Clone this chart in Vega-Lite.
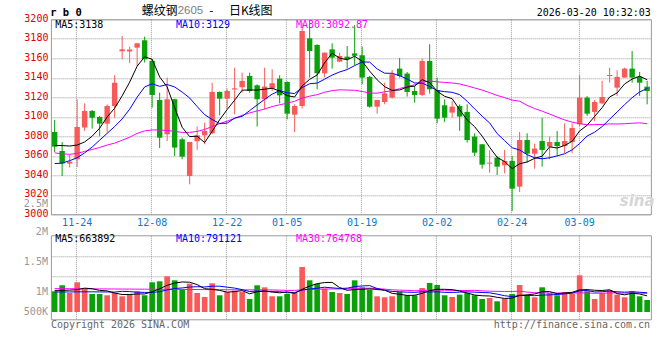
{
  "$schema": "https://vega.github.io/schema/vega-lite/v6.json",
  "autosize": {"type": "pad"},
  "padding": {"left": 22.9, "top": 3.3, "right": 9.5, "bottom": 31.6},
  "background": "white",
  "spacing": 21,
  "bounds": "flush",
  "resolve": {"scale": {"x": "independent", "y": "independent"}, "axis": {"x": "independent", "y": "independent"}},
  "config": {"view": {"stroke": "#999999", "strokeWidth": 1, "fill": "white"}},
  "datasets": {
    "k": [
      {"d":"11-19","o":3084.4,"h":3096.8,"l":3063.9,"c":3069.4,"m5":3070.5,"m10":3052,"m30":3063,"v":852000,"v5":890000,"v10":825000,"v30":960000},
      {"d":"11-20","o":3065,"h":3074.2,"l":3039.3,"c":3052,"m5":3070.5,"m10":3052.5,"m30":3062,"v":1099000,"v5":890000,"v10":825000,"v30":960000},
      {"d":"11-21","o":3052,"h":3061,"l":3048,"c":3054,"m5":3070,"m10":3055,"m30":3061.5,"v":783000,"v5":900000,"v10":825000,"v30":958000},
      {"d":"11-24","o":3056.4,"h":3117.9,"l":3048.5,"c":3089.6,"m5":3071,"m10":3058,"m30":3062.5,"v":1222000,"v5":920000,"v10":830000,"v30":956000},
      {"d":"11-25","o":3088.9,"h":3113.8,"l":3085.5,"c":3106,"m5":3074.2,"m10":3063,"m30":3064.5,"v":948000,"v5":981000,"v10":830000,"v30":954000},
      {"d":"11-26","o":3106,"h":3107,"l":3087.9,"c":3099.1,"m5":3080.1,"m10":3069,"m30":3066.5,"v":742000,"v5":958000,"v10":830000,"v30":952000},
      {"d":"11-27","o":3099.8,"h":3100.9,"l":3080,"c":3093,"m5":3088.3,"m10":3076,"m30":3068.5,"v":742000,"v5":888000,"v10":825000,"v30":950000},
      {"d":"11-28","o":3093,"h":3112.8,"l":3083.8,"c":3111.1,"m5":3099.8,"m10":3083,"m30":3071,"v":688000,"v5":868000,"v10":825000,"v30":948000},
      {"d":"12-01","o":3111.1,"h":3142.6,"l":3099.1,"c":3135,"m5":3108.8,"m10":3090,"m30":3073,"v":783000,"v5":780000,"v10":820000,"v30":946000},
      {"d":"12-02","o":3167.2,"h":3182.9,"l":3159,"c":3169.2,"m5":3121.5,"m10":3097.8,"m30":3076,"v":646000,"v5":720000,"v10":850000,"v30":944000},
      {"d":"12-03","o":3167,"h":3172,"l":3155,"c":3169,"m5":3135.5,"m10":3107.8,"m30":3079,"v":742000,"v5":720000,"v10":839000,"v30":942000},
      {"d":"12-04","o":3170.9,"h":3175.4,"l":3152.1,"c":3175.4,"m5":3151.9,"m10":3120.1,"m30":3083,"v":852000,"v5":742000,"v10":815000,"v30":940000},
      {"d":"12-05","o":3178.5,"h":3182.2,"l":3155.6,"c":3159,"m5":3161.5,"m10":3130.6,"m30":3085.5,"v":688000,"v5":742000,"v10":806000,"v30":938000},
      {"d":"12-08","o":3157.3,"h":3159,"l":3109.4,"c":3122.4,"m5":3159,"m10":3133.9,"m30":3086.5,"v":1222000,"v5":830000,"v10":806000,"v30":936000},
      {"d":"12-09","o":3117.3,"h":3124.8,"l":3068,"c":3078.6,"m5":3140.9,"m10":3131.2,"m30":3086.5,"v":1263000,"v5":953000,"v10":836000,"v30":934000},
      {"d":"12-10","o":3082,"h":3140.2,"l":3075,"c":3118,"m5":3130.7,"m10":3133.1,"m30":3086,"v":1469000,"v5":1099000,"v10":909000,"v30":932000},
      {"d":"12-11","o":3118,"h":3118.5,"l":3059.8,"c":3068.4,"m5":3109.3,"m10":3130.6,"m30":3085,"v":1304000,"v5":1189000,"v10":966000,"v30":930000},
      {"d":"12-12","o":3076.9,"h":3078.6,"l":3056.4,"c":3059.1,"m5":3089.3,"m10":3125.4,"m30":3084,"v":921000,"v5":1236000,"v10":989000,"v30":928000},
      {"d":"12-15","o":3039.3,"h":3074.2,"l":3030.8,"c":3074.2,"m5":3079.7,"m10":3119.3,"m30":3084,"v":1167000,"v5":1225000,"v10":1027000,"v30":926000},
      {"d":"12-16","o":3075,"h":3090,"l":3066,"c":3081,"m5":3080.1,"m10":3110.5,"m30":3085,"v":783000,"v5":1128000,"v10":1041000,"v30":924000},
      {"d":"12-17","o":3081,"h":3094,"l":3071.8,"c":3085.5,"m5":3073.6,"m10":3102.2,"m30":3087,"v":619000,"v5":959000,"v10":1029000,"v30":922000},
      {"d":"12-18","o":3083.1,"h":3135,"l":3082,"c":3125.5,"m5":3085.1,"m10":3097.2,"m30":3090,"v":1181000,"v5":934000,"v10":1062000,"v30":920000},
      {"d":"12-19","o":3125.5,"h":3126,"l":3101.5,"c":3118.6,"m5":3097,"m10":3093.1,"m30":3093,"v":688000,"v5":888000,"v10":1062000,"v30":918000},
      {"d":"12-22","o":3118.6,"h":3128.9,"l":3108.4,"c":3126.5,"m5":3107.4,"m10":3093.5,"m30":3095.5,"v":824000,"v5":819000,"v10":1022000,"v30":916000},
      {"d":"12-23","o":3128,"h":3150.4,"l":3102.6,"c":3129.2,"m5":3117.1,"m10":3098.6,"m30":3098.5,"v":879000,"v5":838000,"v10":983000,"v30":914000},
      {"d":"12-24","o":3130.3,"h":3145.3,"l":3124.8,"c":3136.8,"m5":3127.3,"m10":3100.5,"m30":3101.5,"v":824000,"v5":879000,"v10":919000,"v30":912000},
      {"d":"12-25","o":3141.9,"h":3145.3,"l":3124.8,"c":3126.5,"m5":3127.5,"m10":3106.3,"m30":3104,"v":537000,"v5":750000,"v10":842000,"v30":911000},
      {"d":"12-26","o":3132.3,"h":3133.3,"l":3090,"c":3118,"m5":3127.4,"m10":3112.2,"m30":3106,"v":1099000,"v5":833000,"v10":860000,"v30":910000},
      {"d":"12-29","o":3118,"h":3150.4,"l":3107.7,"c":3131,"m5":3128.3,"m10":3117.9,"m30":3108,"v":1016000,"v5":871000,"v10":845000,"v30":909000},
      {"d":"12-30","o":3128.9,"h":3148.7,"l":3126.5,"c":3134.4,"m5":3129.3,"m10":3123.2,"m30":3110.5,"v":646000,"v5":824000,"v10":832000,"v30":908000},
      {"d":"12-31","o":3139.1,"h":3142.6,"l":3113.8,"c":3122,"m5":3126.4,"m10":3126.9,"m30":3112.3,"v":646000,"v5":789000,"v10":834000,"v30":900000},
      {"d":"01-05","o":3135.7,"h":3136.4,"l":3097.4,"c":3103.2,"m5":3121.7,"m10":3124.6,"m30":3114,"v":742000,"v5":830000,"v10":790000,"v30":889000},
      {"d":"01-06","o":3102.2,"h":3112.8,"l":3084.4,"c":3111.1,"m5":3120.3,"m10":3123.9,"m30":3115.9,"v":783000,"v5":767000,"v10":800000,"v30":889000},
      {"d":"01-07","o":3111.1,"h":3196.6,"l":3108.4,"c":3188,"m5":3131.7,"m10":3130,"m30":3119.2,"v":1853000,"v5":934000,"v10":902000,"v30":910000},
      {"d":"01-08","o":3180.5,"h":3198.3,"l":3140.2,"c":3167.5,"m5":3138.4,"m10":3133.9,"m30":3121.2,"v":1304000,"v5":1066000,"v10":945000,"v30":922000},
      {"d":"01-09","o":3173.7,"h":3174.4,"l":3128.2,"c":3144.6,"m5":3142.9,"m10":3134.6,"m30":3122.7,"v":1154000,"v5":1167000,"v10":978000,"v30":935000},
      {"d":"01-12","o":3144.6,"h":3165.8,"l":3140.2,"c":3165.8,"m5":3155.4,"m10":3138.6,"m30":3125.2,"v":961000,"v5":1211000,"v10":1020000,"v30":943000},
      {"d":"01-13","o":3169.2,"h":3175.4,"l":3149.4,"c":3160.7,"m5":3165.3,"m10":3142.8,"m30":3126.8,"v":824000,"v5":1219000,"v10":993000,"v30":948000},
      {"d":"01-14","o":3156.6,"h":3165.8,"l":3156,"c":3162.4,"m5":3160.2,"m10":3146,"m30":3127.7,"v":783000,"v5":1006000,"v10":970000,"v30":948000},
      {"d":"01-15","o":3161.7,"h":3172.6,"l":3149.4,"c":3159,"m5":3158.5,"m10":3148.4,"m30":3127.4,"v":742000,"v5":893000,"v10":980000,"v30":951000},
      {"d":"01-16","o":3165,"h":3194,"l":3153,"c":3162.6,"m5":3162.1,"m10":3152.5,"m30":3127.2,"v":1304000,"v5":923000,"v10":1045000,"v30":969000},
      {"d":"01-19","o":3163.1,"h":3172,"l":3133.3,"c":3140.2,"m5":3157,"m10":3156.2,"m30":3126,"v":1016000,"v5":934000,"v10":1072000,"v30":975000},
      {"d":"01-20","o":3140.9,"h":3141.9,"l":3109.4,"c":3110.4,"m5":3146.9,"m10":3156.1,"m30":3124.4,"v":921000,"v5":953000,"v10":1086000,"v30":982000},
      {"d":"01-21","o":3110.4,"h":3117.3,"l":3103.2,"c":3117.3,"m5":3137.9,"m10":3149.1,"m30":3124.2,"v":646000,"v5":925000,"v10":966000,"v30":963000},
      {"d":"01-22","o":3115.2,"h":3135,"l":3112.8,"c":3124.1,"m5":3130.9,"m10":3144.7,"m30":3125.7,"v":605000,"v5":898000,"v10":895000,"v30":941000},
      {"d":"01-23","o":3119.7,"h":3148,"l":3118.6,"c":3143.6,"m5":3127.1,"m10":3144.6,"m30":3126.6,"v":646000,"v5":767000,"v10":845000,"v30":914000},
      {"d":"01-26","o":3149.4,"h":3160.3,"l":3140.2,"c":3141.9,"m5":3127.5,"m10":3142.2,"m30":3129,"v":824000,"v5":728000,"v10":832000,"v30":898000},
      {"d":"01-27","o":3144.3,"h":3146,"l":3120.7,"c":3125.5,"m5":3130.5,"m10":3138.7,"m30":3131.2,"v":688000,"v5":682000,"v10":817000,"v30":891000},
      {"d":"01-28","o":3126.5,"h":3131.6,"l":3114.5,"c":3122.4,"m5":3131.5,"m10":3134.7,"m30":3132.8,"v":688000,"v5":690000,"v10":808000,"v30":874000},
      {"d":"01-29","o":3122.4,"h":3159.7,"l":3121.4,"c":3157.3,"m5":3138.1,"m10":3134.5,"m30":3135.4,"v":989000,"v5":767000,"v10":833000,"v30":881000},
      {"d":"01-30","o":3157.3,"h":3174.4,"l":3123.8,"c":3128.2,"m5":3135.1,"m10":3131.1,"m30":3136.8,"v":1194000,"v5":876000,"v10":822000,"v30":900000},
      {"d":"02-02","o":3127.5,"h":3140.2,"l":3093.3,"c":3098.1,"m5":3126.3,"m10":3126.9,"m30":3135.9,"v":1112000,"v5":934000,"v10":832000,"v30":898000},
      {"d":"02-03","o":3111.8,"h":3117.9,"l":3094.7,"c":3099.1,"m5":3121,"m10":3125.8,"m30":3135.3,"v":688000,"v5":934000,"v10":808000,"v30":898000},
      {"d":"02-04","o":3104.3,"h":3116.2,"l":3099.1,"c":3110.4,"m5":3118.6,"m10":3125.1,"m30":3134.7,"v":619000,"v5":921000,"v10":806000,"v30":891000},
      {"d":"02-05","o":3111.1,"h":3112.8,"l":3085.5,"c":3100.2,"m5":3107.2,"m10":3122.7,"m30":3133.7,"v":715000,"v5":865000,"v10":816000,"v30":886000},
      {"d":"02-06","o":3105,"h":3112.8,"l":3073.5,"c":3076.2,"m5":3096.8,"m10":3115.9,"m30":3131.7,"v":783000,"v5":783000,"v10":830000,"v30":884000},
      {"d":"02-09","o":3079.7,"h":3083.1,"l":3059.8,"c":3063.2,"m5":3089.8,"m10":3108.1,"m30":3129.6,"v":688000,"v5":698000,"v10":816000,"v30":890000},
      {"d":"02-10","o":3071.8,"h":3072,"l":3046.8,"c":3050.9,"m5":3080.2,"m10":3100.6,"m30":3127.4,"v":537000,"v5":668000,"v10":802000,"v30":870000},
      {"d":"02-11","o":3052,"h":3065.6,"l":3042.7,"c":3053,"m5":3068.7,"m10":3093.7,"m30":3124.8,"v":577000,"v5":659000,"v10":790000,"v30":856000},
      {"d":"02-12","o":3058.1,"h":3059.8,"l":3040.3,"c":3048.9,"m5":3058.4,"m10":3082.8,"m30":3121.9,"v":440000,"v5":605000,"v10":735000,"v30":849000},
      {"d":"02-13","o":3050.3,"h":3066,"l":3042,"c":3054.7,"m5":3054.1,"m10":3075.5,"m30":3119.7,"v":550000,"v5":558000,"v10":671000,"v30":846000},
      {"d":"02-24","o":3054.7,"h":3059.8,"l":3003.4,"c":3026.3,"m5":3046.8,"m10":3068.3,"m30":3117.1,"v":742000,"v5":570000,"v10":633000,"v30":846000},
      {"d":"02-25","o":3028.4,"h":3084.4,"l":3022.9,"c":3076.2,"m5":3051.8,"m10":3066,"m30":3116,"v":1112000,"v5":685000,"v10":676000,"v30":857000},
      {"d":"02-26","o":3076.2,"h":3083.1,"l":3053,"c":3062.2,"m5":3053.7,"m10":3061.2,"m30":3111.8,"v":688000,"v5":706000,"v10":683000,"v30":818000},
      {"d":"02-27","o":3062.2,"h":3072.5,"l":3046.8,"c":3067.4,"m5":3057.4,"m10":3057.9,"m30":3108.4,"v":605000,"v5":740000,"v10":672000,"v30":795000},
      {"d":"03-02","o":3075.2,"h":3099.1,"l":3048.9,"c":3066,"m5":3059.6,"m10":3056.9,"m30":3105.8,"v":1016000,"v5":833000,"v10":695000,"v30":790000},
      {"d":"03-03","o":3069.4,"h":3079.7,"l":3056.4,"c":3074.2,"m5":3069.2,"m10":3058,"m30":3102.8,"v":783000,"v5":841000,"v10":705000,"v30":784000},
      {"d":"03-04","o":3074.2,"h":3085.5,"l":3059.8,"c":3070,"m5":3068,"m10":3059.9,"m30":3099.7,"v":688000,"v5":756000,"v10":720000,"v30":779000},
      {"d":"03-05","o":3070,"h":3093.3,"l":3062.6,"c":3075.2,"m5":3070.6,"m10":3062.1,"m30":3096.8,"v":824000,"v5":783000,"v10":745000,"v30":781000},
      {"d":"03-06","o":3074.2,"h":3093.3,"l":3062.6,"c":3088.5,"m5":3074.8,"m10":3066.1,"m30":3094.5,"v":742000,"v5":810000,"v10":775000,"v30":781000},
      {"d":"03-09","o":3092.3,"h":3142.6,"l":3090.6,"c":3119.7,"m5":3085.5,"m10":3072.6,"m30":3093,"v":1510000,"v5":909000,"v10":871000,"v30":788000},
      {"d":"03-10","o":3119.7,"h":3121.4,"l":3100.9,"c":3103.2,"m5":3091.3,"m10":3080.3,"m30":3091.8,"v":852000,"v5":923000,"v10":882000,"v30":782000},
      {"d":"03-11","o":3105,"h":3117.3,"l":3095.7,"c":3115.2,"m5":3100.4,"m10":3084.2,"m30":3092,"v":537000,"v5":893000,"v10":825000,"v30":770000},
      {"d":"03-12","o":3113.8,"h":3136.8,"l":3112.8,"c":3120.3,"m5":3109.4,"m10":3090,"m30":3092.1,"v":783000,"v5":885000,"v10":835000,"v30":775000},
      {"d":"03-13","o":3141.9,"h":3150.4,"l":3135,"c":3142.9,"m5":3120.3,"m10":3097.5,"m30":3092.7,"v":893000,"v5":915000,"v10":863000,"v30":783000},
      {"d":"03-16","o":3129.9,"h":3147.7,"l":3121.4,"c":3140.9,"m5":3124.5,"m10":3105,"m30":3092.6,"v":715000,"v5":756000,"v10":833000,"v30":786000},
      {"d":"03-17","o":3140.2,"h":3150.4,"l":3140.2,"c":3149.4,"m5":3133.7,"m10":3112.5,"m30":3092.9,"v":605000,"v5":707000,"v10":815000,"v30":778000},
      {"d":"03-18","o":3149.4,"h":3167.5,"l":3135,"c":3140.2,"m5":3138.7,"m10":3119.6,"m30":3093.4,"v":852000,"v5":770000,"v10":832000,"v30":784000},
      {"d":"03-19","o":3140.9,"h":3146,"l":3121.4,"c":3135,"m5":3141.7,"m10":3125.5,"m30":3093.8,"v":646000,"v5":742000,"v10":813000,"v30":783000},
      {"d":"03-20","o":3130.9,"h":3136.8,"l":3112.8,"c":3126.5,"m5":3138,"m10":3129,"m30":3092.87,"v":495000,"v5":663892,"v10":791121,"v30":764768}
    ]
  },
  "vconcat": [
    {
      "width": 600,
      "height": 195,
      "encoding": {
        "x": {
          "field": "d", "type": "ordinal",
          "scale": {"type": "band", "paddingInner": 0, "paddingOuter": 0, "domain": ["11-19","11-20","11-21","11-24","11-25","11-26","11-27","11-28","12-01","12-02","12-03","12-04","12-05","12-08","12-09","12-10","12-11","12-12","12-15","12-16","12-17","12-18","12-19","12-22","12-23","12-24","12-25","12-26","12-29","12-30","12-31","01-05","01-06","01-07","01-08","01-09","01-12","01-13","01-14","01-15","01-16","01-19","01-20","01-21","01-22","01-23","01-26","01-27","01-28","01-29","01-30","02-02","02-03","02-04","02-05","02-06","02-09","02-10","02-11","02-12","02-13","02-24","02-25","02-26","02-27","03-02","03-03","03-04","03-05","03-06","03-09","03-10","03-11","03-12","03-13","03-16","03-17","03-18","03-19","03-20"]},
          "axis": {"values": ["11-24","12-08","12-22","01-05","01-19","02-02","02-24","03-09"], "bandPosition": 0.4, "grid": true, "gridColor": "#999999", "gridDash": [1, 1], "ticks": false, "domain": false, "labelAngle": 0, "labelOverlap": false, "labelColor": "#0a78d2", "labelFont": "DejaVu Sans Mono", "labelFontSize": 10, "labelPadding": 3, "title": null}
        }
      },
      "layer": [
        {
          "data": {"name": "k"},
          "mark": {"type": "rule", "strokeWidth": 1},
          "encoding": {
            "y": {"field": "l", "type": "quantitative", "scale": {"domain": [3000, 3200], "nice": false, "zero": false},
              "axis": {"values": [3000,3020,3040,3060,3080,3100,3120,3140,3160,3180,3200], "tickCount": 11, "format": "d", "grid": true, "gridColor": "#999999", "gridDash": [1, 1], "ticks": false, "domain": false, "labelOverlap": false, "labelOffset": -1, "labelColor": "#e00000", "labelFont": "DejaVu Sans Mono", "labelFontSize": 10, "labelPadding": 3, "title": null}},
            "y2": {"field": "h"},
            "color": {"condition": {"test": "datum.c >= datum.o", "value": "#f85a5a"}, "value": "#0aa00a"}
          }
        },
        {
          "data": {"name": "k"},
          "mark": {"type": "bar", "width": {"band": 0.72}},
          "encoding": {
            "y": {"field": "o", "type": "quantitative"},
            "y2": {"field": "c"},
            "color": {"condition": {"test": "datum.c >= datum.o", "value": "#f85a5a"}, "value": "#0aa00a"}
          }
        },
        {"data": {"name": "k"}, "mark": {"type": "line", "color": "#ff00ff", "strokeWidth": 1}, "encoding": {"y": {"field": "m30", "type": "quantitative"}}},
        {"data": {"name": "k"}, "mark": {"type": "line", "color": "#0000ff", "strokeWidth": 1}, "encoding": {"y": {"field": "m10", "type": "quantitative"}}},
        {"data": {"name": "k"}, "mark": {"type": "line", "color": "#000000", "strokeWidth": 1}, "encoding": {"y": {"field": "m5", "type": "quantitative"}}},
        {"data": {"values": [{}]}, "mark": {"type": "text", "text": "r b 0", "align": "left", "baseline": "middle", "font": "DejaVu Sans Mono", "fontWeight": "bold", "fontSize": 10.5, "color": "#000000", "dx": -4.5}, "encoding": {"x": {"datum": "11-19", "type": "ordinal"}, "y": {"datum": 3206.5}}},
        {"data": {"values": [{}]}, "mark": {"type": "text", "text": "螺纹钢", "align": "left", "baseline": "middle", "font": "Noto Sans CJK SC", "fontSize": 12, "color": "#000000", "dx": -3}, "encoding": {"x": {"datum": "12-05", "type": "ordinal"}, "y": {"datum": 3208.9}}},
        {"data": {"values": [{}]}, "mark": {"type": "text", "text": "2605", "align": "left", "baseline": "middle", "font": "Liberation Sans", "fontSize": 11.5, "color": "#808080", "dx": 3}, "encoding": {"x": {"datum": "12-11", "type": "ordinal"}, "y": {"datum": 3208.9}}},
        {"data": {"values": [{}]}, "mark": {"type": "text", "text": "-", "align": "left", "baseline": "middle", "font": "Noto Sans CJK SC", "fontSize": 12, "color": "#000000", "dx": -3}, "encoding": {"x": {"datum": "12-18", "type": "ordinal"}, "y": {"datum": 3208.9}}},
        {"data": {"values": [{}]}, "mark": {"type": "text", "text": "日K线图", "align": "left", "baseline": "middle", "font": "Noto Sans CJK SC", "fontSize": 12, "color": "#000000", "dx": 1.75}, "encoding": {"x": {"datum": "12-22", "type": "ordinal"}, "y": {"datum": 3208.9}}},
        {"data": {"values": [{}]}, "mark": {"type": "text", "text": "2026-03-20 10:32:03", "align": "right", "baseline": "middle", "font": "DejaVu Sans Mono", "fontSize": 10, "color": "#000000", "dx": 3.75}, "encoding": {"x": {"datum": "03-20", "type": "ordinal"}, "y": {"datum": 3206.5}}},
        {"data": {"values": [{}]}, "mark": {"type": "text", "text": "MA5:3138", "align": "left", "baseline": "middle", "font": "DejaVu Sans Mono", "fontSize": 10, "color": "#000000", "dx": 0.5}, "encoding": {"x": {"datum": "11-19", "type": "ordinal"}, "y": {"datum": 3193.8}}},
        {"data": {"values": [{}]}, "mark": {"type": "text", "text": "MA10:3129", "align": "left", "baseline": "middle", "font": "DejaVu Sans Mono", "fontSize": 10, "color": "#0000ff", "dx": 1.25}, "encoding": {"x": {"datum": "12-11", "type": "ordinal"}, "y": {"datum": 3193.8}}},
        {"data": {"values": [{}]}, "mark": {"type": "text", "text": "MA30:3092.87", "align": "left", "baseline": "middle", "font": "DejaVu Sans Mono", "fontSize": 10, "color": "#ff00ff", "dx": 1.25}, "encoding": {"x": {"datum": "01-06", "type": "ordinal"}, "y": {"datum": 3193.8}}},
        {"data": {"values": [{}]}, "mark": {"type": "text", "text": "sina", "align": "center", "baseline": "middle", "font": "DejaVu Sans", "fontStyle": "italic", "fontWeight": "bold", "fontSize": 15, "color": "#d6d6d6", "dx": 5}, "encoding": {"x": {"datum": "03-18", "type": "ordinal"}, "y": {"datum": 3013.3}}}
      ]
    },
    {
      "width": 600,
      "height": 84,
      "encoding": {
        "x": {
          "field": "d", "type": "ordinal",
          "scale": {"type": "band", "paddingInner": 0, "paddingOuter": 0, "domain": ["11-19","11-20","11-21","11-24","11-25","11-26","11-27","11-28","12-01","12-02","12-03","12-04","12-05","12-08","12-09","12-10","12-11","12-12","12-15","12-16","12-17","12-18","12-19","12-22","12-23","12-24","12-25","12-26","12-29","12-30","12-31","01-05","01-06","01-07","01-08","01-09","01-12","01-13","01-14","01-15","01-16","01-19","01-20","01-21","01-22","01-23","01-26","01-27","01-28","01-29","01-30","02-02","02-03","02-04","02-05","02-06","02-09","02-10","02-11","02-12","02-13","02-24","02-25","02-26","02-27","03-02","03-03","03-04","03-05","03-06","03-09","03-10","03-11","03-12","03-13","03-16","03-17","03-18","03-19","03-20"]},
          "axis": {"values": ["11-24","12-08","12-22","01-05","01-19","02-02","02-24","03-09"], "bandPosition": 0.4, "grid": true, "gridColor": "#999999", "gridDash": [1, 1], "ticks": false, "domain": false, "labels": false, "title": null}
        }
      },
      "layer": [
        {
          "data": {"name": "k"},
          "mark": {"type": "bar", "width": {"band": 0.75}},
          "encoding": {
            "y": {"field": "v", "type": "quantitative", "scale": {"domain": [-300000, 3156000], "nice": false, "zero": false},
              "axis": {"values": [1457000, 2280000], "tickCount": 5, "grid": true, "gridColor": "#999999", "gridDash": [1, 1], "ticks": false, "domain": false, "labels": false, "title": null}},
            "y2": {"datum": 0},
            "color": {"condition": {"test": "datum.c >= datum.o", "value": "#f85a5a"}, "value": "#0aa00a"}
          }
        },
        {"data": {"name": "k"}, "mark": {"type": "line", "color": "#ff00ff", "strokeWidth": 1}, "encoding": {"y": {"field": "v30", "type": "quantitative"}}},
        {"data": {"name": "k"}, "mark": {"type": "line", "color": "#0000ff", "strokeWidth": 1}, "encoding": {"y": {"field": "v10", "type": "quantitative"}}},
        {"data": {"name": "k"}, "mark": {"type": "line", "color": "#000000", "strokeWidth": 1}, "encoding": {"y": {"field": "v5", "type": "quantitative"}}},
        {"data": {"values": [{}]}, "mark": {"type": "text", "text": "MA5:663892", "align": "left", "baseline": "middle", "font": "DejaVu Sans Mono", "fontSize": 10, "color": "#000000", "dx": 0.5}, "encoding": {"x": {"datum": "11-19", "type": "ordinal"}, "y": {"datum": 3020000}}},
        {"data": {"values": [{}]}, "mark": {"type": "text", "text": "MA10:791121", "align": "left", "baseline": "middle", "font": "DejaVu Sans Mono", "fontSize": 10, "color": "#0000ff", "dx": 1.25}, "encoding": {"x": {"datum": "12-11", "type": "ordinal"}, "y": {"datum": 3020000}}},
        {"data": {"values": [{}]}, "mark": {"type": "text", "text": "MA30:764768", "align": "left", "baseline": "middle", "font": "DejaVu Sans Mono", "fontSize": 10, "color": "#ff00ff", "dx": 1.25}, "encoding": {"x": {"datum": "01-06", "type": "ordinal"}, "y": {"datum": 3020000}}},
        {"data": {"values": [{}]}, "mark": {"type": "text", "text": "2.5M", "align": "right", "baseline": "middle", "font": "DejaVu Sans Mono", "fontSize": 10, "color": "#999999", "dx": -6.75}, "encoding": {"x": {"datum": "11-19", "type": "ordinal"}, "y": {"datum": 4452000}}},
        {"data": {"values": [{}]}, "mark": {"type": "text", "text": "2M", "align": "right", "baseline": "middle", "font": "DejaVu Sans Mono", "fontSize": 10, "color": "#999999", "dx": -6.75}, "encoding": {"x": {"datum": "11-19", "type": "ordinal"}, "y": {"datum": 3279400}}},
        {"data": {"values": [{}]}, "mark": {"type": "text", "text": "1.5M", "align": "right", "baseline": "middle", "font": "DejaVu Sans Mono", "fontSize": 10, "color": "#999999", "dx": -6.75}, "encoding": {"x": {"datum": "11-19", "type": "ordinal"}, "y": {"datum": 2045000}}},
        {"data": {"values": [{}]}, "mark": {"type": "text", "text": "1M", "align": "right", "baseline": "middle", "font": "DejaVu Sans Mono", "fontSize": 10, "color": "#999999", "dx": -6.75}, "encoding": {"x": {"datum": "11-19", "type": "ordinal"}, "y": {"datum": 810900}}},
        {"data": {"values": [{}]}, "mark": {"type": "text", "text": "500K", "align": "right", "baseline": "middle", "font": "DejaVu Sans Mono", "fontSize": 10, "color": "#999999", "dx": -6.75}, "encoding": {"x": {"datum": "11-19", "type": "ordinal"}, "y": {"datum": -12000}}},
        {"data": {"values": [{}]}, "mark": {"type": "text", "text": "Copyright 2026 SINA.COM", "align": "left", "baseline": "middle", "font": "DejaVu Sans Mono", "fontSize": 10, "color": "#666666", "dx": -3.75}, "encoding": {"x": {"datum": "11-19", "type": "ordinal"}, "y": {"datum": -520000}}},
        {"data": {"values": [{}]}, "mark": {"type": "text", "text": "http://finance.sina.com.cn", "align": "right", "baseline": "middle", "font": "DejaVu Sans Mono", "fontSize": 10, "color": "#666666", "dx": 3}, "encoding": {"x": {"datum": "03-20", "type": "ordinal"}, "y": {"datum": -520000}}}
      ]
    }
  ]
}
